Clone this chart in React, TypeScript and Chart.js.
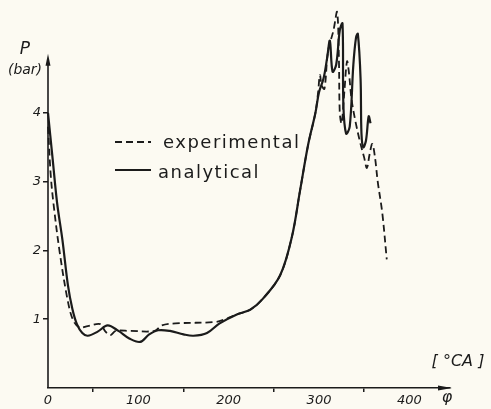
import React, { useEffect, useRef } from 'react';
import { Chart, registerables } from 'chart.js';

Chart.register(...registerables);

// ---- data (crank angle [°CA] -> pressure [bar]) ----
const ANA_X = [0, 5, 10, 16, 22, 27, 32, 38, 44, 55, 66, 78, 90, 102, 112, 122, 135, 150, 161, 176, 190, 209, 224, 238, 257, 270, 279, 288, 296, 300, 305, 309, 312, 315, 319, 323, 326, 327, 330, 334, 338, 341, 343, 346, 347, 349, 352, 355, 357];
const ANA_Y = [4.0, 3.35, 2.7, 2.15, 1.5, 1.15, 0.93, 0.8, 0.76, 0.82, 0.91, 0.83, 0.72, 0.67, 0.78, 0.84, 0.83, 0.78, 0.76, 0.8, 0.94, 1.07, 1.14, 1.3, 1.64, 2.2, 2.87, 3.54, 4.0, 4.3, 4.5, 4.8, 5.05, 4.6, 4.7, 5.2, 5.3, 4.1, 3.7, 3.8, 4.7, 5.1, 5.15, 4.5, 3.7, 3.5, 3.6, 3.95, 3.85];

const EXP_X = [0, 3, 6, 13, 22, 28, 35, 44, 58, 63, 69, 75, 91, 118, 126, 141, 185, 196, 209, 224, 238, 257, 270, 279, 288, 296, 299, 301, 303, 306, 310, 316, 320, 322, 323, 325, 328, 331, 333, 336, 340, 345, 350, 353, 356, 359, 362, 365, 370, 375];
const EXP_Y = [3.8, 3.1, 2.69, 1.97, 1.26, 0.98, 0.88, 0.9, 0.93, 0.83, 0.77, 0.83, 0.83, 0.83, 0.91, 0.94, 0.96, 1.0, 1.07, 1.14, 1.3, 1.64, 2.2, 2.87, 3.54, 4.0, 4.3, 4.55, 4.4, 4.35, 4.9, 5.2, 5.47, 4.8, 4.0, 3.85, 4.3, 4.75, 4.6, 4.2, 3.9, 3.6, 3.35, 3.2, 3.4, 3.55, 3.35, 3.0, 2.55, 1.87];

const X_LABELS = [0, 100, 200, 300, 400];
const Y_LABELS = [1, 2, 3, 4];
const X_MINOR_TICKS = [50, 150, 250, 350];
const LEGEND = ['experimental', 'analytical'];
const Y_TITLE = 'P';
const Y_UNIT = '(bar)';
const X_UNIT = '[ °CA ]';
const X_SYMBOL = 'φ';

const INK = '#1b1b1b';
const BG = '#fcfaf2';
const TRANSPARENT = 'rgba(0,0,0,0)';

const toPts = (xs: number[], ys: number[]) => xs.map((x, i) => ({ x, y: ys[i] }));

const decor = {
  id: 'decor',
  afterDraw(chart: any) {
    const { ctx, chartArea, scales } = chart;
    const ys = scales.y;
    const x0 = chartArea.left;
    const y0 = ys.getPixelForValue(0);
    const yTop = ys.getPixelForValue(4.86);
    ctx.save();
    ctx.strokeStyle = INK;
    ctx.fillStyle = INK;
    // y axis line with arrow
    ctx.lineWidth = 1.6;
    ctx.beginPath();
    ctx.moveTo(x0, y0);
    ctx.lineTo(x0, yTop + 6);
    ctx.stroke();
    ctx.beginPath();
    ctx.moveTo(x0, yTop);
    ctx.lineTo(x0 - 2.5, yTop + 12);
    ctx.lineTo(x0 + 2.5, yTop + 12);
    ctx.closePath();
    ctx.fill();
    // x axis arrow
    const xr = chartArea.right;
    ctx.beginPath();
    ctx.moveTo(xr + 2, y0);
    ctx.lineTo(xr - 12, y0 - 2.5);
    ctx.lineTo(xr - 12, y0 + 2.5);
    ctx.closePath();
    ctx.fill();

    // axis titles
    ctx.textAlign = 'center';
    ctx.textBaseline = 'middle';
    ctx.font = 'italic 17px "DejaVu Sans"';
    ctx.fillText(Y_TITLE, 25, 50);
    ctx.font = 'italic 14px "DejaVu Sans"';
    ctx.fillText(Y_UNIT, 25, 70);
    ctx.font = 'italic 16px "DejaVu Sans"';
    ctx.fillText(X_UNIT, 458, 362);
    ctx.fillText(X_SYMBOL, 447, 398);

    // legend
    ctx.lineWidth = 2;
    ctx.setLineDash([7, 4]);
    ctx.beginPath();
    ctx.moveTo(115, 142);
    ctx.lineTo(151, 142);
    ctx.stroke();
    ctx.setLineDash([]);
    ctx.lineWidth = 2.2;
    ctx.beginPath();
    ctx.moveTo(115, 170);
    ctx.lineTo(151, 170);
    ctx.stroke();
    ctx.textAlign = 'left';
    ctx.textBaseline = 'alphabetic';
    ctx.font = '18px "DejaVu Sans"';
    (ctx as any).letterSpacing = '1.5px';
    ctx.fillText(LEGEND[0], 163, 148);
    ctx.fillText(LEGEND[1], 158, 178);
    ctx.restore();
  },
};

export default function App() {
  const ref = useRef<HTMLCanvasElement>(null);
  useEffect(() => {
    document.body.style.margin = '0';
    document.body.style.background = BG;
    const tickFont = { family: '"DejaVu Sans"', size: 13, style: 'italic' as const };
    const chart = new Chart(ref.current as HTMLCanvasElement, {
      type: 'scatter',
      data: {
        datasets: [
          {
            label: LEGEND[0],
            data: toPts(EXP_X, EXP_Y),
            showLine: true,
            borderColor: INK,
            borderWidth: 1.8,
            borderDash: [7, 4],
            pointRadius: 0,
            tension: 0.35,
            fill: false,
            clip: false,
          } as any,
          {
            label: LEGEND[1],
            data: toPts(ANA_X, ANA_Y),
            showLine: true,
            borderColor: INK,
            borderWidth: 2.2,
            pointRadius: 0,
            tension: 0.35,
            fill: false,
            clip: false,
          } as any,
        ],
      },
      options: {
        animation: false,
        responsive: false,
        layout: { padding: { top: 3, right: 41, left: 0, bottom: 0 } },
        plugins: { legend: { display: false }, tooltip: { enabled: false } },
        scales: {
          x: {
            type: 'linear',
            min: 0,
            max: 445,
            afterFit: (s: any) => { s.height = 21; },
            ticks: {
              stepSize: 50,
              autoSkip: false,
              maxRotation: 0,
              padding: 1,
              color: INK,
              font: tickFont,
              callback: (v: any) => (X_LABELS.includes(Number(v)) ? String(v) : ''),
            },
            grid: {
              drawOnChartArea: false,
              tickLength: 4,
              lineWidth: 1.5,
              tickColor: (c: any) => (c.tick && X_MINOR_TICKS.includes(c.tick.value) ? INK : TRANSPARENT),
              color: TRANSPARENT,
            },
            border: { display: true, color: INK, width: 1.6 },
          },
          y: {
            type: 'linear',
            min: 0,
            max: 5.5,
            afterFit: (s: any) => { s.width = 48; },
            ticks: {
              stepSize: 1,
              autoSkip: false,
              padding: 2,
              color: INK,
              font: tickFont,
              callback: (v: any) => (Y_LABELS.includes(Number(v)) ? String(v) : ''),
            },
            grid: {
              drawOnChartArea: false,
              tickLength: 5,
              lineWidth: 1.5,
              tickColor: (c: any) => (c.tick && Y_LABELS.includes(c.tick.value) ? INK : TRANSPARENT),
              color: TRANSPARENT,
            },
            border: { display: false },
          },
        },
      } as any,
      plugins: [decor],
    });
    return () => chart.destroy();
  }, []);
  return (
    <div style={{ width: 491, height: 409, background: BG }}>
      <canvas ref={ref} width={491} height={409} style={{ display: 'block' }} />
    </div>
  );
}
